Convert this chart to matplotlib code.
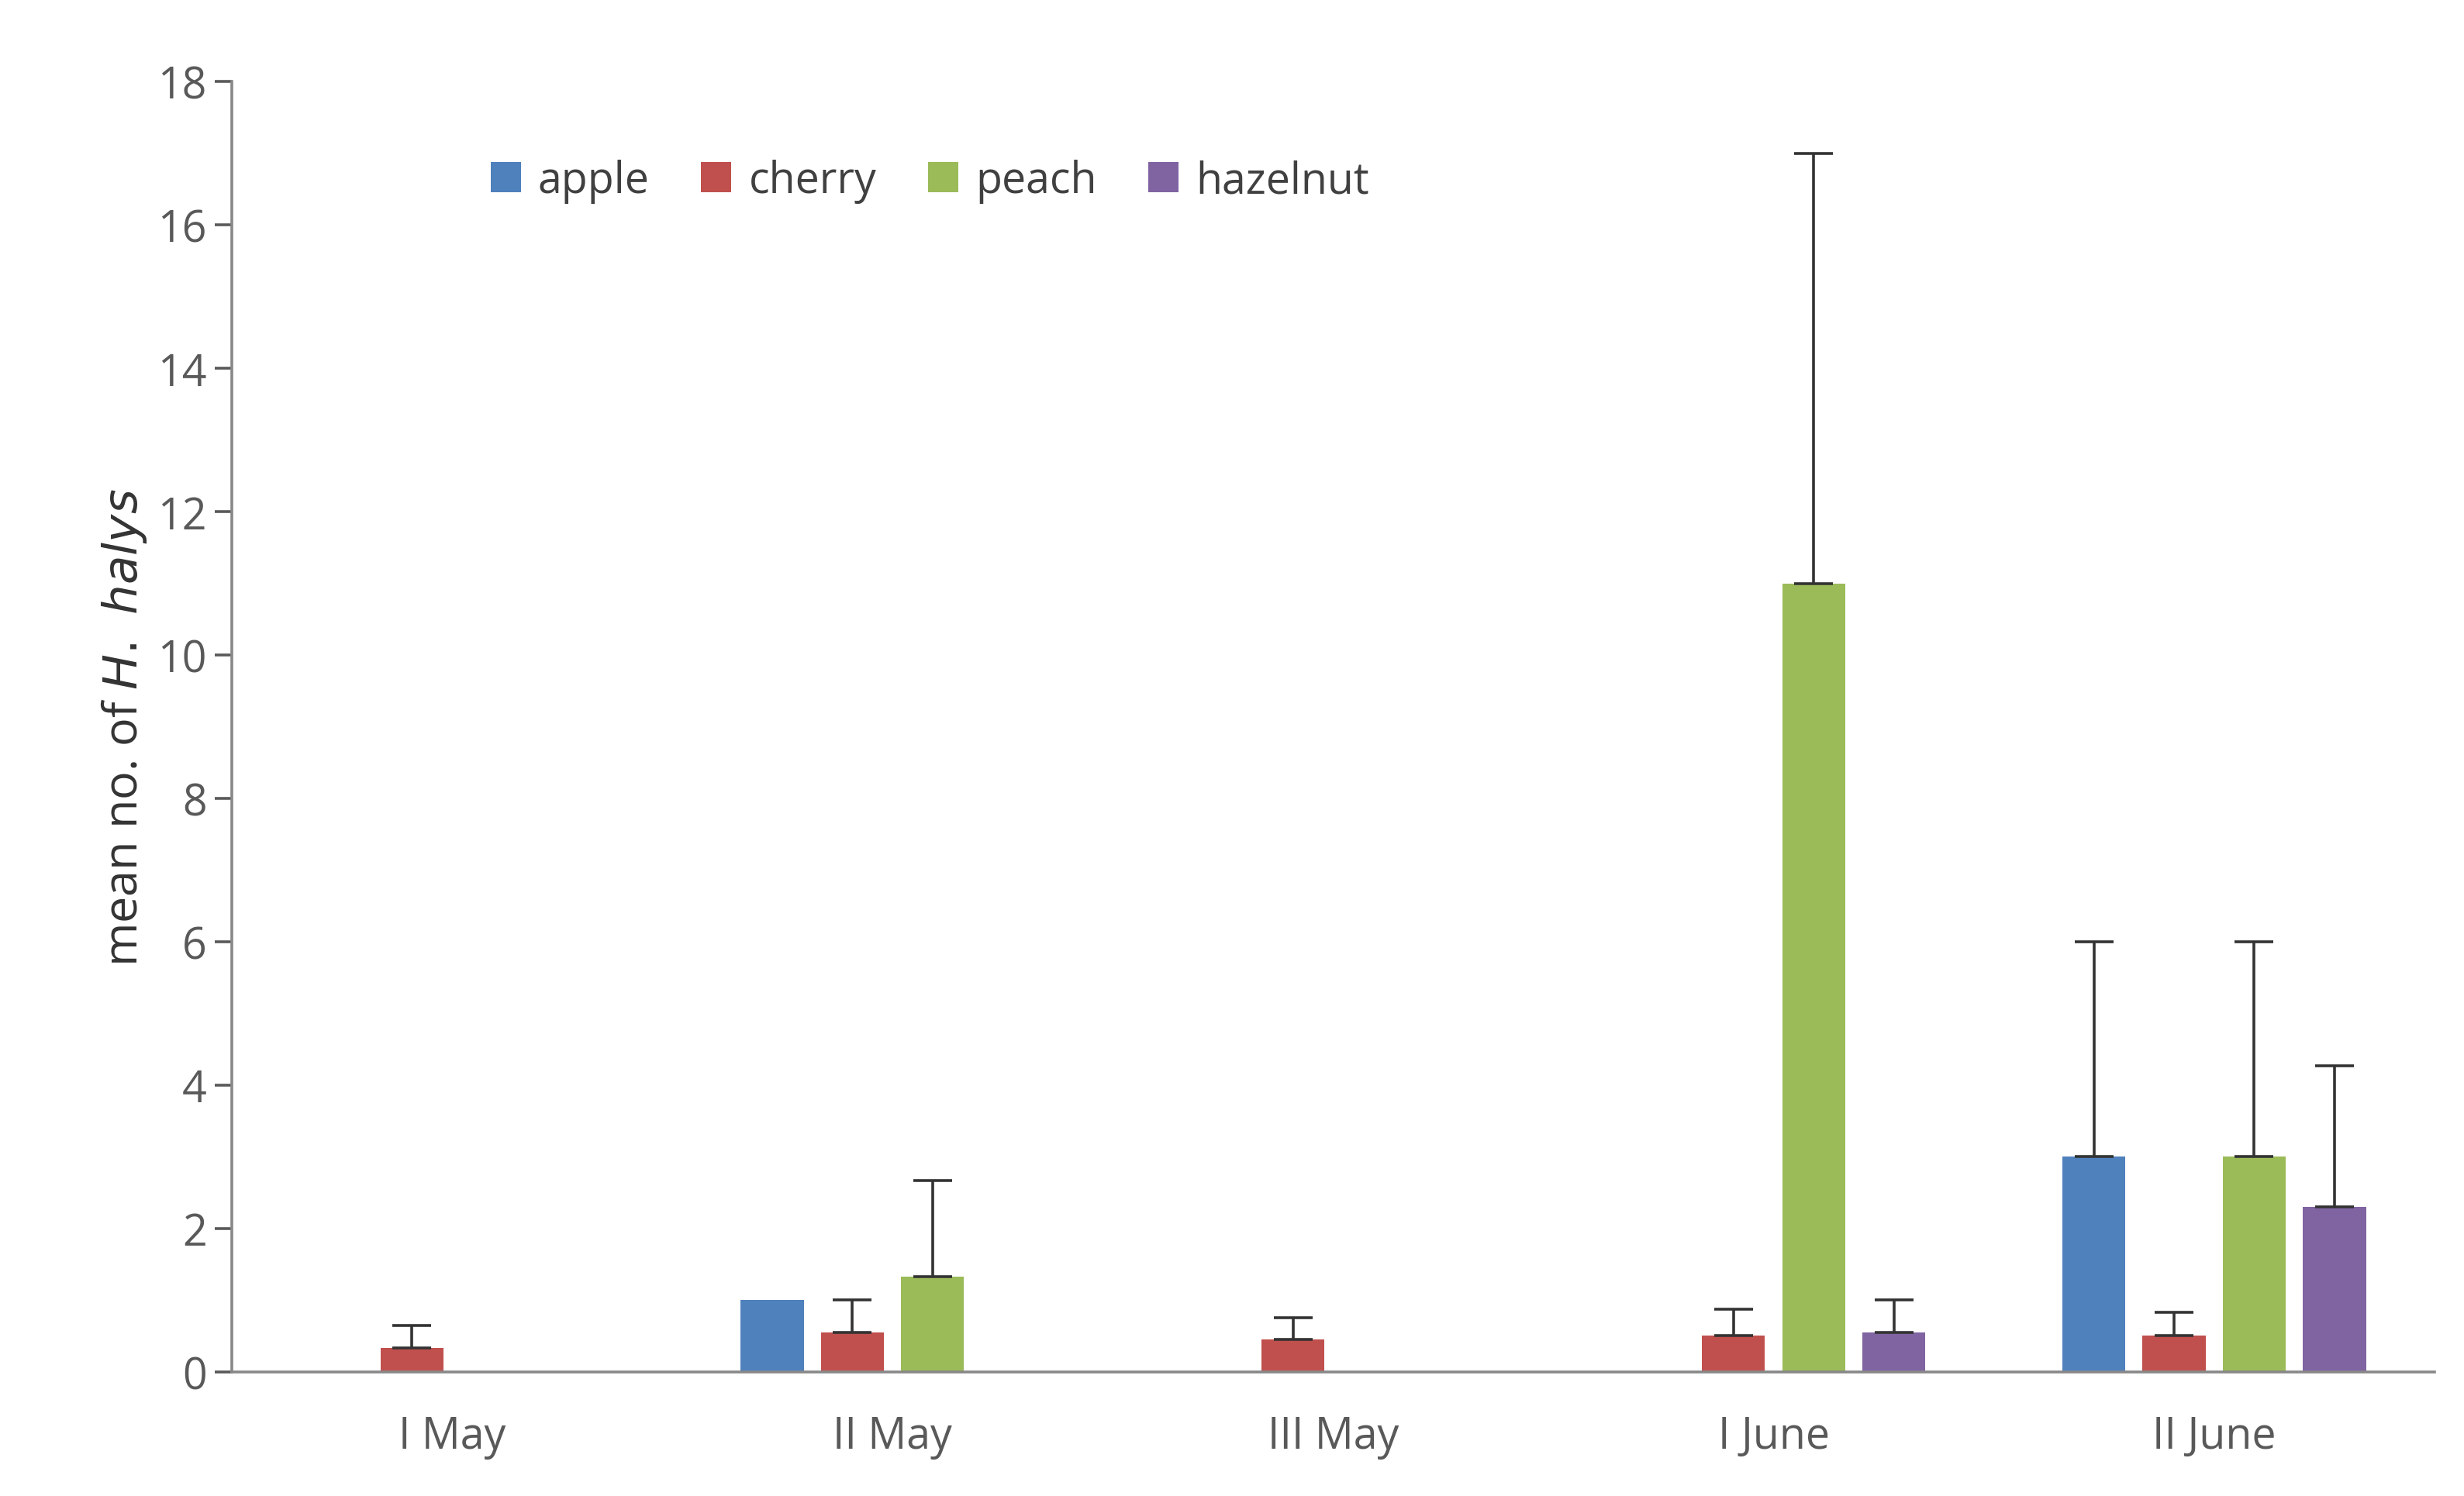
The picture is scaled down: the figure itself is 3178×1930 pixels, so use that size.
import numpy as np
import matplotlib.pyplot as plt

plt.rcParams['font.family'] = ['Open Sans', 'DejaVu Sans']

periods = ['I May', 'II May', 'III May', 'I June', 'II June']
series = ['apple', 'cherry', 'peach', 'hazelnut']
colors = ['#4f81bd', '#c0504d', '#9bbb59', '#8064a2']
means = {
    'apple':    [0, 1.0, 0, 0, 3.0],
    'cherry':   [0.33, 0.55, 0.45, 0.5, 0.5],
    'peach':    [0, 1.33, 0, 11.0, 3.0],
    'hazelnut': [0, 0, 0, 0.55, 2.3],
}
upper = {
    'apple':    [0, 0, 0, 0, 3.0],
    'cherry':   [0.32, 0.45, 0.3, 0.37, 0.33],
    'peach':    [0, 1.34, 0, 6.0, 3.0],
    'hazelnut': [0, 0, 0, 0.45, 1.97],
}

fig = plt.figure(figsize=(15.89, 9.655), dpi=200)
ax = fig.add_axes([0.094, 0.083, 0.894, 0.862])
x = np.arange(len(periods))
w = 0.143
step = 0.182
for i, s in enumerate(series):
    pos = x + (i - 1.5) * step
    vals = np.array(means[s])
    err = np.array(upper[s])
    mask = vals > 0
    ax.bar(pos[mask], vals[mask], w, color=colors[i], label=s)
    em = err > 0
    ax.errorbar(pos[em], vals[em], yerr=[np.zeros(em.sum()), err[em]],
                fmt='none', ecolor='#333333', elinewidth=1.3, capsize=9, capthick=1.3)

ax.set_xlim(-0.5, 4.5)
ax.set_ylim(0, 18)
ax.set_yticks(range(0, 19, 2))
ax.set_xticks(x)
ax.set_xticklabels(periods)
ax.tick_params(axis='both', labelsize=20, colors='#595959', length=8, width=1.3)
ax.tick_params(axis='x', length=0, pad=20)
ax.tick_params(axis='y', direction='out')
for sp in ['top', 'right']:
    ax.spines[sp].set_visible(False)
for sp in ['left', 'bottom']:
    ax.spines[sp].set_color('#888888')
    ax.spines[sp].set_linewidth(1.3)
ax.set_ylabel('mean no. of $\\it{H.\\ halys}$', fontsize=22, color='#333333')
ax.legend(loc='upper left', bbox_to_anchor=(0.1, 0.97), ncol=4, frameon=False,
          fontsize=20, handlelength=0.7, handleheight=0.7, columnspacing=1.2,
          handletextpad=0.4, labelcolor='#404040')
fig.savefig('out.png')
